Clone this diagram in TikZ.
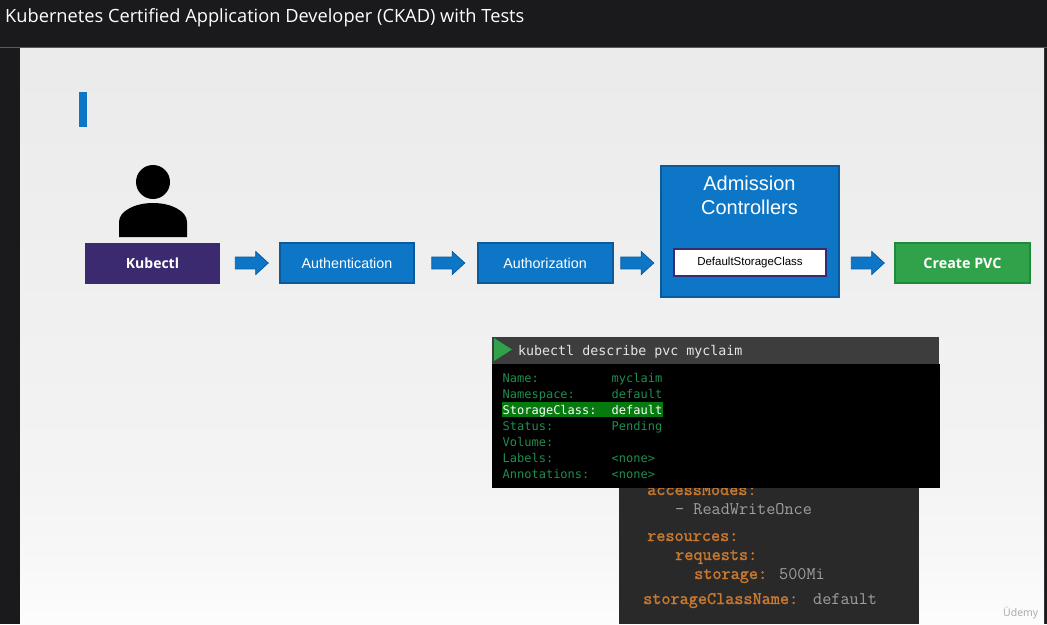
\documentclass[tikz,border=0pt]{standalone}
\usepackage{fontspec}
\setmainfont{Liberation Sans}
\newfontfamily\titlefont{Open Sans}
\newfontfamily\termfont{DejaVu Sans Mono}
\newfontfamily\yamlboldfont[FakeBold=1.6]{Latin Modern Mono}
\usetikzlibrary{shapes.arrows}
\definecolor{headerbg}{HTML}{1A1A1C}
\definecolor{blueA}{HTML}{0D76C6}
\definecolor{blueB}{HTML}{0A5A9C}
\definecolor{purpleA}{HTML}{3B2A70}
\definecolor{greenA}{HTML}{2FA24A}
\definecolor{greenB}{HTML}{1F8A3C}
\definecolor{termgreen}{HTML}{1E8E50}
\definecolor{hlgreen}{HTML}{067A0E}
\definecolor{yamlorange}{HTML}{C9782F}
\definecolor{yamlgray}{HTML}{A0A0A0}
\pgfdeclareverticalshading{slidebg}{100bp}{
  color(0bp)=(black!1);
  color(25bp)=(black!1);
  color(31bp)=(black!3);
  color(38bp)=(black!4.5);
  color(53bp)=(black!6);
  color(75bp)=(black!8);
  color(100bp)=(black!8)}
\tikzset{
  x=1pt,y=-1pt,
  flowbox/.style={draw=blueB,line width=2pt,fill=blueA,text=white,inner sep=0pt,font=\fontsize{14.3}{16}\selectfont},
  flowarrow/.style={shape=single arrow,draw=blueB,line width=0.8pt,fill=blueA,inner xsep=0pt,inner ysep=5.5pt,outer sep=0pt,minimum height=33pt,minimum width=23pt,single arrow head extend=5.5pt,single arrow tip angle=85,single arrow head indent=0pt},
  termline/.style={anchor=base west,inner sep=0pt,text=termgreen,font=\termfont\fontsize{12}{14}\selectfont},
  yamlkey/.style={anchor=base west,inner sep=0pt,text=yamlorange,font=\yamlboldfont\fontsize{17.7}{20}\selectfont},
  yamlval/.style={anchor=base west,inner sep=0pt,text=yamlgray,font=\ttfamily\fontsize{17.7}{20}\selectfont},
}
\begin{document}
\begin{tikzpicture}
\useasboundingbox (0,0) rectangle (1047,624);
% chrome
\fill[headerbg] (0,0) rectangle (1047,624);
\fill[gray!70!black] (0,47) rectangle (1047,48);
\path[shading=slidebg] (20,48) rectangle (1044,624);
\node[anchor=base west,inner sep=0pt,text=white,font=\titlefont\fontsize{18.25}{20}\selectfont] (title) at (5,22) {Kubernetes Certified Application Developer (CKAD) with Tests};
% tab
\fill[blueA] (79,92) rectangle (87,127);
% person
\fill[black] (153,182) circle[radius=17];
\fill[black] (119,237) -- (119,222) .. controls (119,211) and (135,203) .. (153,203) .. controls (171,203) and (187,211) .. (187,222) -- (187,237) -- cycle;
% flow
\node[fill=purpleA,text=white,inner sep=0pt,minimum width=135pt,minimum height=41pt,font=\titlefont\bfseries\fontsize{14}{16}\selectfont] (kubectl) at (152.5,263.5) {Kubectl};
\node[flowbox,minimum width=134pt,minimum height=40pt] (authn) at (347,263) {Authentication};
\node[flowbox,minimum width=135pt,minimum height=40pt] (authz) at (545,263) {Authorization};
\node[draw=blueB,line width=2pt,fill=blueA,minimum width=178pt,minimum height=131pt,inner sep=0pt] (adm) at (750,231.5) {};
\node[anchor=center,inner sep=0pt,text=white,align=center,font=\fontsize{20}{24}\selectfont] (admtext) at (749.5,195) {Admission\\Controllers};
\node[draw=purpleA,line width=2pt,fill=white,text=black,minimum width=152pt,minimum height=27pt,inner sep=0pt,font=\fontsize{11.5}{13}\selectfont] (dsc) at (750,262.5) {DefaultStorageClass};
\node[draw=greenB,line width=2pt,fill=greenA,text=white,inner sep=0pt,minimum width=135pt,minimum height=40pt,font=\titlefont\bfseries\fontsize{14.3}{16}\selectfont] (pvc) at (962.5,263) {Create PVC};
\node[flowarrow] (a1) at (248.5,263) {};
\node[flowarrow] (a2) at (445,263) {};
\node[flowarrow] (a3) at (634,263) {};
\node[flowarrow] (a4) at (864.5,263) {};
% yaml panel
\fill[black!84] (619,470) rectangle (919,624);
\node[yamlkey] (y1) at (647,495) {accessModes:};
\node[yamlval] (y2) at (675,514) {- ReadWriteOnce};
\node[yamlkey] (y3) at (647,541) {resources:};
\node[yamlkey] (y4) at (675,560) {requests:};
\node[yamlkey] (y5) at (694,579) {storage:};
\node[yamlval] (y6) at (779,579) {500Mi};
\node[yamlkey] (y7) at (643,604) {storageClassName:};
\node[yamlval] (y8) at (813,604) {default};
% terminal
\fill[black!76] (492,337) rectangle (939,364);
\fill[greenA] (494,338) -- (512,349.5) -- (494,361) -- cycle;
\node[anchor=base west,inner sep=0pt,text=white!90!black,font=\termfont\fontsize{13.3}{15}\selectfont] (cmd) at (518,355) {kubectl describe pvc myclaim};
\fill[black] (492,364) rectangle (940,488);
\fill[hlgreen] (502,402) rectangle (663,417);
\foreach \yy/\k/\v in {382/Name:/myclaim,398/Namespace:/default,430/Status:/Pending,446/Volume:/,462/Labels:/<none>,478/Annotations:/<none>}{
  \node[termline] at (502.5,\yy) {\k};
  \node[termline] at (611.5,\yy) {\v};
}
\node[termline,text=white] (sc) at (502.5,414) {StorageClass:};
\node[termline,text=white] (scv) at (611.5,414) {default};
% watermark
\node[anchor=base west,inner sep=0pt,text=black!35,font=\titlefont\fontsize{10.5}{12}\selectfont] (wm) at (1003,616) {\"Udemy};
\end{tikzpicture}
\end{document}
